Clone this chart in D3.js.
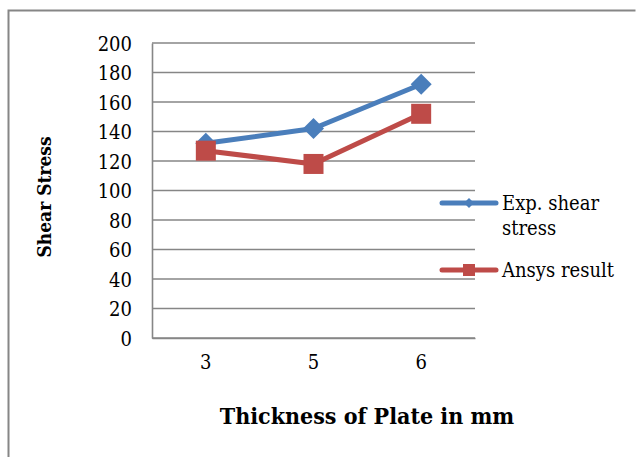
<!DOCTYPE html>
<html>
<head>
<meta charset="utf-8">
<script src="https://cdn.jsdelivr.net/npm/d3@7"></script>
<style>
  html, body { margin: 0; padding: 0; background: #fff; }
  svg { display: block; }
  text { font-family: "DejaVu Serif Condensed", "DejaVu Serif", serif; font-stretch: condensed; fill: #000; }
</style>
</head>
<body>
<script>
// Plate thickness (mm) and shear stress per method
const categories = ["3", "5", "6"];
const expShear = [132, 142, 172];
const ansysResult = [127, 118, 152];
const yTicks = [0, 20, 40, 60, 80, 100, 120, 140, 160, 180, 200];
const seriesNames = ["Exp. shear stress", "Ansys result"];

const W = 636, H = 457;
const svg = d3.select("body").append("svg").attr("width", W).attr("height", H);

// outer chart frame
svg.append("path")
  .attr("d", `M8.5,${H} V10.5 H635.5`)
  .attr("fill", "none").attr("stroke", "#868686").attr("stroke-width", 2);

const plot = { left: 152, right: 475, top: 43, bottom: 338 };

const x = d3.scaleBand().domain(categories).range([plot.left, plot.right]);
const y = d3.scaleLinear().domain([0, 200]).range([plot.bottom, plot.top]);

// horizontal gridlines
svg.append("g").selectAll("line").data(yTicks).join("line")
  .attr("x1", plot.left).attr("x2", plot.right)
  .attr("y1", d => y(d)).attr("y2", d => y(d))
  .attr("stroke", "#868686").attr("stroke-width", 1.6);

// axes
const yAxis = svg.append("g").attr("transform", `translate(${plot.left},0)`)
  .call(d3.axisLeft(y).tickValues(yTicks).tickSize(0).tickPadding(20));
yAxis.select(".domain").attr("stroke", "#868686").attr("stroke-width", 1.6);
yAxis.selectAll("text").attr("font-size", 20).attr("dy", "0.36em");

const xAxis = svg.append("g").attr("transform", `translate(0,${plot.bottom})`)
  .call(d3.axisBottom(x).tickSize(0).tickPadding(17));
xAxis.select(".domain").attr("stroke", "#868686").attr("stroke-width", 1.6);
xAxis.selectAll("text").attr("font-size", 20);

// axis titles
svg.append("text")
  .attr("x", 367).attr("y", 424)
  .attr("text-anchor", "middle").attr("font-size", 23).attr("font-weight", "bold")
  .text("Thickness of Plate in mm");
svg.append("text")
  .attr("transform", `translate(51,${197}) rotate(-90)`)
  .attr("text-anchor", "middle").attr("font-size", 19).attr("font-weight", "bold")
  .text("Shear Stress");

const cx = d => x(d) + x.bandwidth() / 2;
const line = d3.line().x(d => cx(d.c)).y(d => y(d.v));

const blue = "#4A7EBB", red = "#BE4B48";
const expPts = categories.map((c, i) => ({ c, v: expShear[i] }));
const ansPts = categories.map((c, i) => ({ c, v: ansysResult[i] }));
const diamondPath = r => `M0,${-r}L${r},0L0,${r}L${-r},0Z`;

// Exp. shear stress series
svg.append("path").datum(expPts).attr("d", line)
  .attr("fill", "none").attr("stroke", blue).attr("stroke-width", 5).attr("stroke-linejoin", "round");
svg.append("g").selectAll("path").data(expPts).join("path")
  .attr("transform", d => `translate(${cx(d.c)},${y(d.v)})`)
  .attr("d", diamondPath(10.5)).attr("fill", blue);

// Ansys result series
svg.append("path").datum(ansPts).attr("d", line)
  .attr("fill", "none").attr("stroke", red).attr("stroke-width", 5).attr("stroke-linejoin", "round");
svg.append("g").selectAll("rect").data(ansPts).join("rect")
  .attr("x", d => cx(d.c) - 10).attr("y", d => y(d.v) - 10)
  .attr("width", 20).attr("height", 20).attr("fill", red);

// legend
const legend = svg.append("g");
const lg = [
  { name: seriesNames[0], color: blue, y: 203, lines: ["Exp. shear", "stress"] },
  { name: seriesNames[1], color: red, y: 270, lines: ["Ansys result"] }
];
lg.forEach((d, i) => {
  legend.append("line").attr("x1", 442).attr("x2", 496).attr("y1", d.y).attr("y2", d.y)
    .attr("stroke", d.color).attr("stroke-width", 5).attr("stroke-linecap", "round");
  if (i === 0) {
    legend.append("path").attr("d", diamondPath(5))
      .attr("transform", `translate(469,${d.y})`).attr("fill", d.color);
  } else {
    legend.append("rect").attr("x", 463).attr("y", d.y - 6).attr("width", 12).attr("height", 12).attr("fill", d.color);
  }
  const t = legend.append("text").attr("x", 502).attr("y", d.y).attr("font-size", 20);
  d.lines.forEach((s, k) => t.append("tspan").attr("x", 502).attr("dy", k === 0 ? "0.36em" : 25).text(s));
});
</script>
</body>
</html>
